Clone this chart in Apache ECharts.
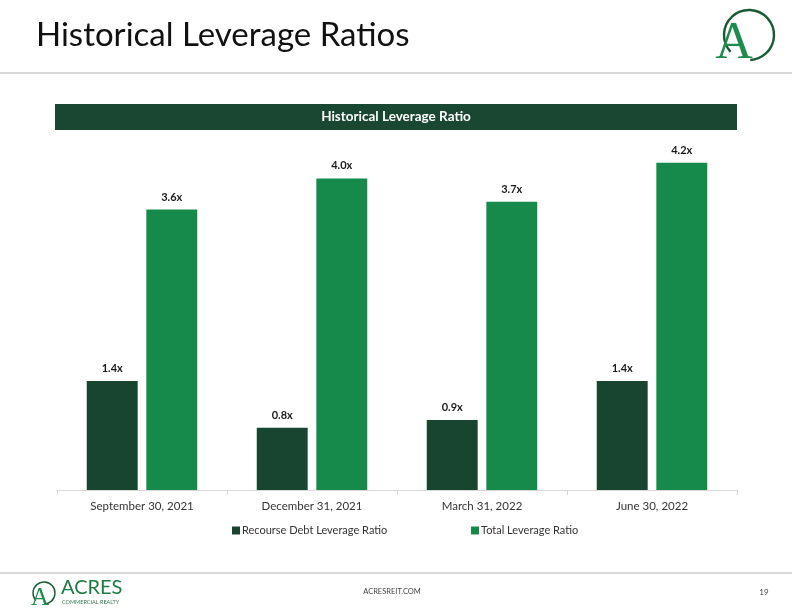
<!DOCTYPE html>
<html>
<head>
<meta charset="utf-8">
<script src="https://cdn.jsdelivr.net/npm/echarts@6/dist/echarts.min.js"></script>
<style>
  html, body { margin: 0; padding: 0; background: #fff; }
  #chart { width: 792px; height: 612px; }
</style>
</head>
<body>
<div id="chart"></div>
<script>
const categories = ["September 30, 2021", "December 31, 2021", "March 31, 2022", "June 30, 2022"];
const recourseRatio = [1.4, 0.8, 0.9, 1.4];
const totalRatio = [3.6, 4.0, 3.7, 4.2];

const DARK = "#174530";
const GREEN = "#168a4a";
const FONT = "Lato, 'Noto Sans', sans-serif";
const SERIF = "'Liberation Serif', 'DejaVu Serif', serif";

const chart = echarts.init(document.getElementById("chart"));

const labelStyle = {
  show: true,
  position: "top",
  distance: 7,
  fontFamily: FONT,
  fontSize: 11,
  fontWeight: "bold",
  color: "#1a1a1a",
  formatter: (p) => p.value.toFixed(1) + "x",
};

const legendBase = {
  top: 520,
  icon: "rect", itemWidth: 8, itemHeight: 8, itemGap: 4,
  textStyle: { fontFamily: FONT, fontSize: 11, color: "#333", padding: [0, 0, 0, -3] },
};

chart.setOption({
  animation: false,
  backgroundColor: "#fff",
  textStyle: { fontFamily: FONT },
  grid: { left: 57, right: 55, top: 100.5, bottom: 122, containLabel: false },
  legend: [
    Object.assign({ data: ["Recourse Debt Leverage Ratio"], left: 227 }, legendBase),
    Object.assign({ data: ["Total Leverage Ratio"], left: 466 }, legendBase),
  ],
  xAxis: {
    type: "category",
    data: categories,
    axisLine: { lineStyle: { color: "#d9d9d9", width: 1 } },
    axisTick: { show: true, length: 5, lineStyle: { color: "#d9d9d9" } },
    axisLabel: { fontFamily: FONT, fontSize: 11.5, color: "#333", margin: 10 },
  },
  yAxis: {
    type: "value",
    min: 0,
    max: 5,
    show: false,
    splitLine: { show: false },
  },
  series: [
    {
      name: "Recourse Debt Leverage Ratio",
      type: "bar",
      data: recourseRatio,
      itemStyle: { color: DARK },
      barGap: "17%",
      barCategoryGap: "35%",
      label: labelStyle,
    },
    {
      name: "Total Leverage Ratio",
      type: "bar",
      data: totalRatio,
      itemStyle: { color: GREEN },
      label: labelStyle,
    },
  ],
  graphic: [
    {
      type: "text", left: 36, top: 19,
      style: { text: "Historical Leverage Ratios", fontFamily: FONT, fontSize: 33, fill: "#111" },
    },
    {
      type: "rect", shape: { x: 0, y: 72, width: 792, height: 2 },
      style: { fill: "#dadada" },
    },
    // top-right logo
    {
      type: "arc",
      shape: { cx: 749, cy: 35, r: 25, startAngle: 2.4, endAngle: 2.4 + Math.PI * 1.72 },
      style: { stroke: "#1b5a36", lineWidth: 2.4, fill: null },
    },
    {
      type: "text", x: 734, y: 70,
      style: { text: "A", fontFamily: SERIF, fontSize: 52, fill: "#1f8b4c", align: "center", verticalAlign: "bottom" },
    },
    {
      type: "rect", shape: { x: 55, y: 104, width: 682, height: 26 },
      style: { fill: "#1a4731" },
    },
    {
      type: "text", x: 396, y: 117,
      style: {
        text: "Historical Leverage Ratio", fontFamily: FONT, fontSize: 13.5, fontWeight: "bold",
        fill: "#fff", align: "center", verticalAlign: "middle",
      },
    },
    // footer
    {
      type: "rect", shape: { x: 0, y: 572, width: 792, height: 2 },
      style: { fill: "#dadada" },
    },
    {
      type: "arc",
      shape: { cx: 44, cy: 593, r: 11, startAngle: 2.4, endAngle: 2.4 + Math.PI * 1.72 },
      style: { stroke: "#1b5a36", lineWidth: 1.4, fill: null },
    },
    {
      type: "text", x: 40, y: 611,
      style: { text: "A", fontFamily: SERIF, fontSize: 25, fill: "#1f8b4c", align: "center", verticalAlign: "bottom" },
    },
    {
      type: "text", left: 61, top: 578,
      style: { text: "ACRES", fontFamily: FONT, fontSize: 20, fill: "#1f7a45" },
    },
    {
      type: "text", left: 62, top: 599,
      style: { text: "COMMERCIAL REALTY", fontFamily: FONT, fontSize: 5.5, fill: "#3a7a55" },
    },
    {
      type: "text", x: 392, y: 592,
      style: { text: "ACRESREIT.COM", fontFamily: FONT, fontSize: 7.5, fill: "#444", align: "center", verticalAlign: "middle" },
    },
    {
      type: "text", x: 764, y: 592,
      style: { text: "19", fontFamily: FONT, fontSize: 8, fill: "#444", align: "center", verticalAlign: "middle" },
    },
  ],
});
</script>
</body>
</html>
